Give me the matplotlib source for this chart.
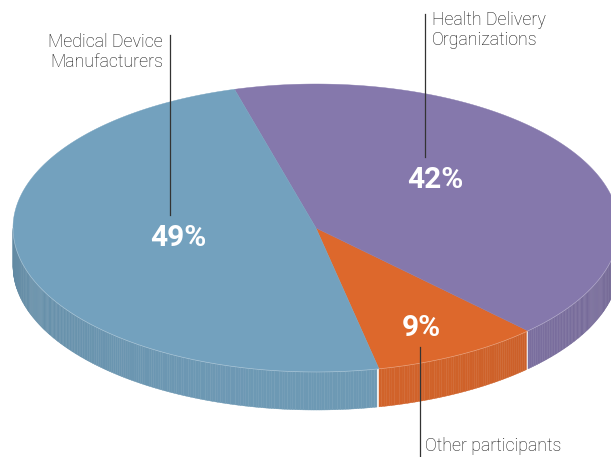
import numpy as np
import matplotlib.pyplot as plt
from matplotlib.patches import Polygon
from matplotlib.colors import to_rgb

# data
labels = ['Other participants', 'Health Delivery\nOrganizations', 'Medical Device\nManufacturers']
shares = [9, 42, 49]
pct_text = ['9%', '42%', '49%']
colors = ['#DD682C', '#8578AC', '#73A1BE']

plt.rcParams['font.family'] = ['Roboto', 'DejaVu Sans']

fig = plt.figure(figsize=(6.11, 4.57), dpi=100)
ax = fig.add_axes([0, 0, 1, 1])
ax.set_xlim(0, 611)
ax.set_ylim(457, 0)
ax.axis('off')

# pie geometry (pixel space)
cx, cy = 316, 228
rx, ry = 303, 144
depth = 38
start = -78.0

edges = start + 360 * np.cumsum([0] + shares) / sum(shares)


def ell(t):
    r = np.radians(t)
    return cx + rx * np.cos(r), cy - ry * np.sin(r)


# side walls, drawn as thin strips so the shade can vary
for i, col in enumerate(colors):
    base = np.array(to_rgb(col))
    ts = np.arange(edges[i], edges[i + 1] + 0.01, 0.5)
    for a, b in zip(ts[:-1], ts[1:]):
        mid = (a + b) / 2
        if np.sin(np.radians(mid)) > 0:
            continue
        f = 0.85 + 0.1 * (-np.sin(np.radians(mid)))
        x0, y0 = ell(a)
        x1, y1 = ell(b)
        poly = Polygon([(x0, y0), (x1, y1), (x1, y1 + depth), (x0, y0 + depth)],
                       closed=True, facecolor=np.clip(base * f, 0, 1),
                       edgecolor=np.clip(base * f, 0, 1), linewidth=0.3)
        ax.add_patch(poly)

# top faces
for i, col in enumerate(colors):
    ts = np.linspace(edges[i], edges[i + 1], 200)
    xs, ys = ell(ts)
    pts = [(cx, cy)] + list(zip(xs, ys))
    ax.add_patch(Polygon(pts, closed=True, facecolor=col, edgecolor=col, linewidth=0.3))

# light rim along the front edge
tt = np.linspace(180, 360, 300)
rx_, ry_ = ell(tt)
ax.plot(rx_, ry_, color='white', lw=0.5, alpha=0.35)

# percentage labels
pct_pos = [(421, 328), (435, 180), (178, 238)]
for (px, py), s in zip(pct_pos, pct_text):
    ax.text(px, py, s, color='white', fontsize=21.5, fontweight='bold',
            ha='center', va='center')

# leader lines and category labels
lc = '#333333'
ax.plot([169.5, 169.5], [35, 215], color=lc, lw=0.9)
ax.text(163, 33, labels[2], ha='right', va='top', fontsize=12.8,
        fontweight='light', color='#111111', linespacing=1.12)

ax.plot([425, 425], [14, 157], color=lc, lw=0.9)
ax.text(432, 11, labels[1], ha='left', va='top', fontsize=12.8,
        fontweight='light', color='#111111', linespacing=1.12)

ax.plot([420, 420], [347, 457], color=lc, lw=0.9)
ax.text(425, 437, labels[0], ha='left', va='top', fontsize=12.8,
        fontweight='light', color='#111111')

fig.savefig('out.png', dpi=100)
